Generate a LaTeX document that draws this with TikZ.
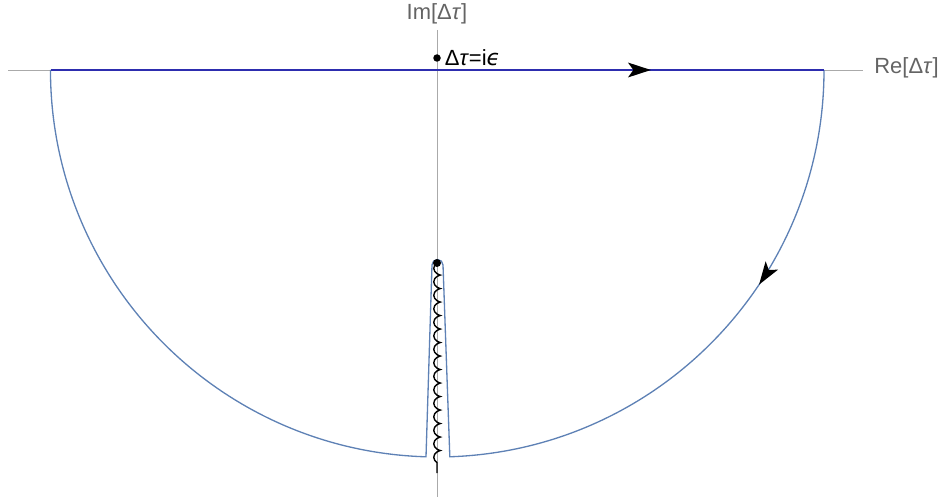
\documentclass[tikz,border=0pt]{standalone}
\usepackage{fontspec}
\setmainfont{Liberation Sans}
\newfontfamily\dejavu{DejaVu Sans}
\usepackage{xcolor}
\definecolor{axisgray}{RGB}{170,170,170}
\definecolor{labelgray}{RGB}{100,100,100}
\definecolor{linenavy}{RGB}{45,45,175}
\definecolor{contourblue}{RGB}{94,129,181}
\usetikzlibrary{arrows.meta,positioning,decorations.markings,decorations.pathmorphing}
\tikzset{flowtip/.tip={Stealth[length=4.6mm, width=3mm, inset=1.1mm, color=black, line width=0pt]}}

\begin{document}
\begin{tikzpicture}[
    x=0.02cm, y=-0.02cm,
    axis/.style={draw=axisgray, line width=0.55pt},
    axlabel/.style={text=labelgray, font=\fontsize{12.5}{15}\selectfont, inner sep=0pt},
    contour/.style={draw=contourblue, line width=0.75pt},
    realline/.style={draw=linenavy, line width=1.1pt},
    dot/.style={circle, fill=black, inner sep=0pt, minimum size=0.16cm}
]
\useasboundingbox (0,0) rectangle (950,500);

% axes
\coordinate (xleft) at (8,70);
\coordinate (xright) at (863,70);
\coordinate (ytop) at (437,30);
\coordinate (ybottom) at (437,497);
\draw[axis] (xleft) -- (xright);
\draw[axis] (ytop) -- (ybottom);
\node[axlabel, anchor=west] (relabel) at (874,68) {Re[Δ\textit{τ}]};
\node[axlabel] (imlabel) at (437,14) {Im[Δ\textit{τ}]};

% contour
\draw[contour, postaction={decorate}, decoration={markings,
      mark=at position 4.55cm with {\arrow{flowtip}}}]
  (824,70) arc[start angle=0, end angle=88.1, radius=387]
  -- (443,265) arc[start angle=0, end angle=-180, radius=5.5]
  -- (426,456.8) arc[start angle=91.7, end angle=180, radius=387];
\coordinate (realstart) at (51,70);
\coordinate (realend) at (824,70);
\draw[realline, postaction={decorate}, decoration={markings,
      mark=at position 12cm with {\arrow{flowtip}}}]
  (realstart) -- (realend);

% branch point and cut
\node[dot] (cutdot) at (437,263) {};
\coordinate (cutend) at (437,473);
\draw[black, line width=0.8pt, decorate, decoration={coil, mirror, segment length=0.27cm, amplitude=0.065cm, aspect=0.6}]
  (cutdot.center) -- (cutend);

% point i epsilon
\node[dot, minimum size=0.15cm] (epsdot) at (437,58) {};
\node[right=0.7mm of epsdot, font=\fontsize{12.5}{15}\selectfont, inner sep=0pt] (epslabel) {Δ\textit{τ}=i{\dejavu\itshape ϵ}};
\end{tikzpicture}
\end{document}
